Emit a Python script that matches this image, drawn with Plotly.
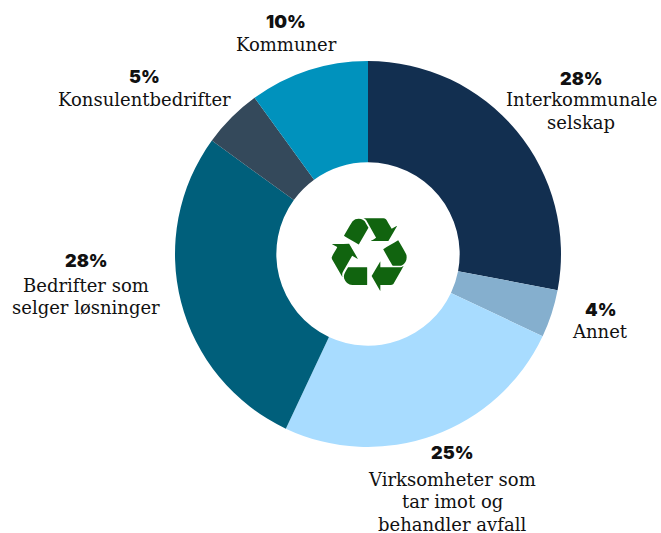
import plotly.graph_objects as go

W, H = 661, 533
categories = ["Interkommunale selskap", "Annet", "Virksomheter som tar imot og behandler avfall",
              "Bedrifter som selger løsninger", "Konsulentbedrifter", "Kommuner"]
values = [28, 4, 25, 28, 5, 10]
colors = ["#122F50", "#85AFCE", "#A8DCFF", "#005F7B", "#34495B", "#0092BD"]
pct_labels = ["28%", "4%", "25%", "28%", "5%", "10%"]
label_lines = [["Interkommunale", "selskap"], ["Annet"], ["Virksomheter som", "tar imot og", "behandler avfall"],
               ["Bedrifter som", "selger løsninger"], ["Konsulentbedrifter"], ["Kommuner"]]
label_x = [581, 600, 452, 86, 144, 286]
pct_y = [78, 309, 452, 260, 77, 21]
first_line_y = [100, 331, 479, 285, 100, 44]

cx, cy, R = 368, 254, 193
fig = go.Figure(go.Pie(
    labels=categories, values=values, hole=0.475, sort=False, direction="clockwise", rotation=0,
    marker=dict(colors=colors, line=dict(width=0)), textinfo="none", hoverinfo="label+percent",
    domain=dict(x=[(cx - R) / W, (cx + R) / W], y=[1 - (cy + R) / H, 1 - (cy - R) / H]),
))
anns = []
for pct, lines, x, y0, y1 in zip(pct_labels, label_lines, label_x, pct_y, first_line_y):
    anns.append(dict(x=x / W, y=1 - y0 / H, xref="paper", yref="paper", text=pct, showarrow=False,
                     font=dict(family="Inter", size=18, weight=900, color="#111111"), xanchor="center", yanchor="middle"))
    for i, line in enumerate(lines):
        anns.append(dict(x=x / W, y=1 - (y1 + i * 22.5) / H, xref="paper", yref="paper", text=line, showarrow=False,
                         font=dict(family="DejaVu Serif", size=18, color="#111111"), xanchor="center", yanchor="middle"))
anns.append(dict(x=369 / W, y=1 - 255 / H, xref="paper", yref="paper", text="♻", showarrow=False,
                 font=dict(family="DejaVu Sans", size=103, color="#11640F"), xanchor="center", yanchor="middle"))
fig.update_layout(width=W, height=H, margin=dict(l=0, r=0, t=0, b=0), paper_bgcolor="white",
                  showlegend=False, annotations=anns)
fig.write_html("out.html", post_script="document.body.style.margin='0';", config=dict(displayModeBar=False))
